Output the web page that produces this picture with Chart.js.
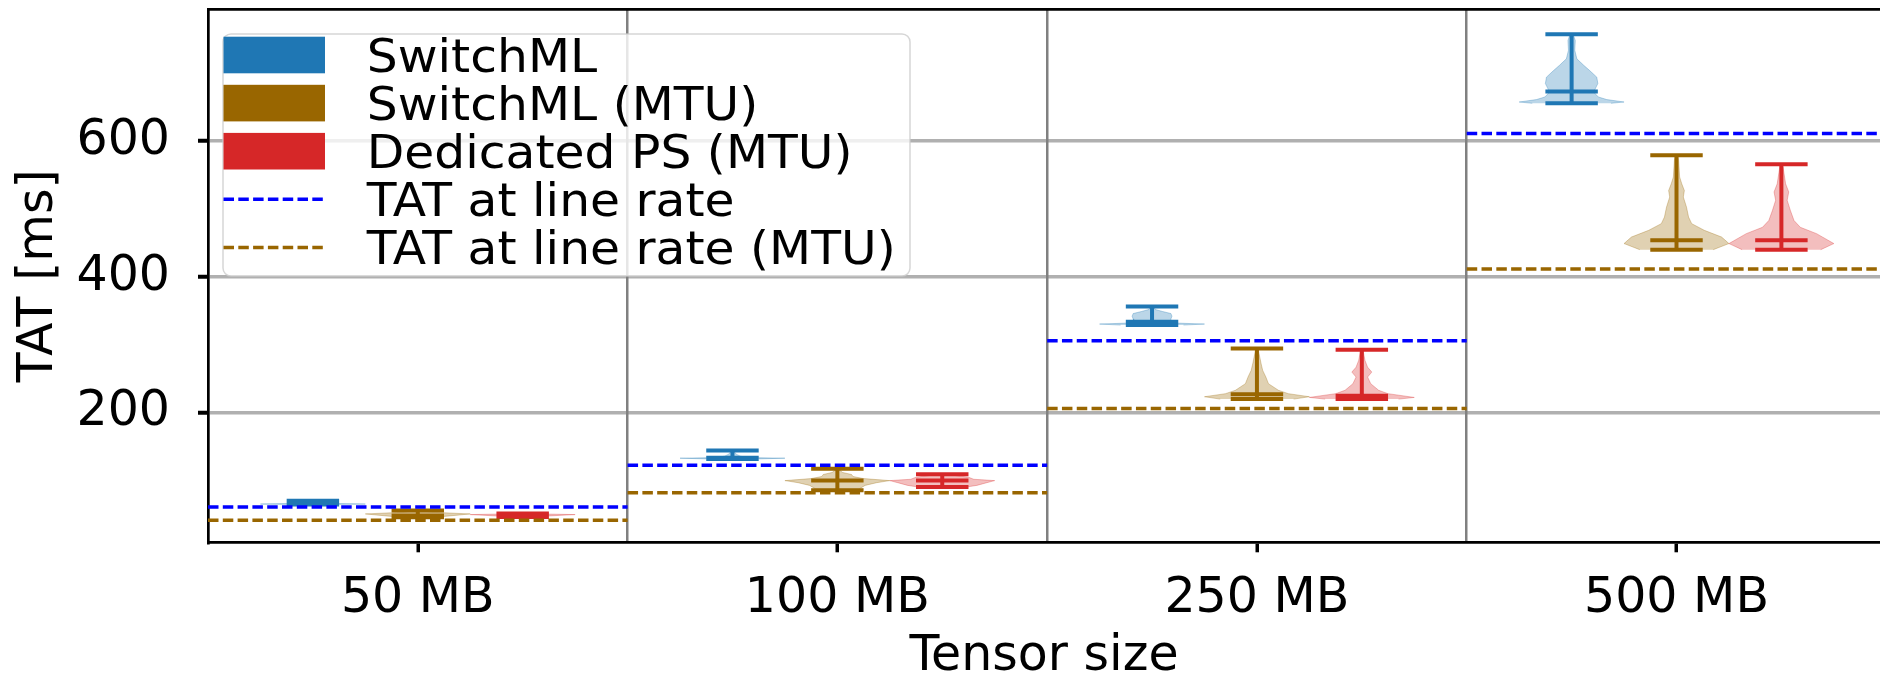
<!DOCTYPE html>
<html>
<head>
<meta charset="utf-8">
<script src="https://cdn.jsdelivr.net/npm/chart.js@4.4.1/dist/chart.umd.min.js"></script>
<style>
  html, body { margin: 0; padding: 0; background: #fff; }
  #wrap { width: 1880px; height: 680px; }
</style>
</head>
<body>
<div id="wrap"><canvas id="chart"></canvas></div>
<script>
const categories = ['50 MB', '100 MB', '250 MB', '500 MB'];
const seriesNames = ['SwitchML', 'SwitchML (MTU)', 'Dedicated PS (MTU)'];
const seriesColors = ['#1f77b4', '#996600', '#d62728'];
const lineNames = ['TAT at line rate', 'TAT at line rate (MTU)'];
const lineColors = ['#0000ff', '#996600'];
const yTicks = [200, 400, 600];

// TAT at line rate, per tensor size
const lineRate = [61.3, 122.5, 305.8, 611];
const lineRateMtu = [41.5, 82.3, 206.2, 411.5];

// min / median / max per tensor size
const switchmlMin = [65, 132, 329, 655.5];
const switchmlMed = [67, 133.5, 334, 673];
const switchmlMax = [70.5, 144.5, 356.5, 757];

const switchmlMtuMin = [46, 86, 220, 440];
const switchmlMtuMed = [48.5, 100, 227, 454];
const switchmlMtuMax = [56, 117.5, 294.7, 579];

const dedicatedPsMin = [46.5, 90.5, 220, 440];
const dedicatedPsMed = [47.5, 100.2, 225, 454];
const dedicatedPsMax = [51.5, 109.5, 292.8, 565.7];

// violin outlines: [TAT, relative density]
const switchmlShape = [
  [[65, 0.3], [65.5, 1.0], [66.5, 0.35], [68, 0.2], [69.5, 0.1], [70.5, 0.03]],
  [[132, 0.5], [133, 1.0], [134, 0.3], [136, 0.15], [139, 0.07], [142, 0.04], [144.5, 0.02]],
  [[329, 0.6], [330.5, 1.0], [332, 0.45], [335, 0.35], [338, 0.36], [342, 0.38], [346, 0.36], [349, 0.2], [352, 0.06], [356.5, 0.03]],
  [[655.5, 0.75], [657.4, 1.0], [661, 0.67], [664.8, 0.51], [672, 0.42], [684.5, 0.5], [694, 0.48], [704, 0.34], [711.5, 0.23], [721, 0.1], [733.6, 0.06], [748, 0.07], [757, 0.03]],
];
const switchmlMtuShape = [
  [[46, 0.3], [48, 0.6], [51, 1.0], [53, 0.4], [55, 0.1], [56, 0.03]],
  [[86, 0.4], [88, 0.42], [93, 0.53], [97, 0.75], [100, 1.0], [103, 0.5], [106, 0.3], [109, 0.27], [112, 0.1], [115, 0.05], [117.5, 0.02]],
  [[220, 0.7], [223.5, 1.0], [228, 0.6], [233, 0.41], [242.7, 0.22], [252.5, 0.17], [262.3, 0.11], [272, 0.08], [287, 0.04], [294.7, 0.02]],
  [[440, 0.7], [449, 1.0], [458.6, 0.86], [468.5, 0.53], [478.3, 0.29], [488, 0.23], [502.8, 0.19], [517.5, 0.13], [527, 0.15], [537, 0.1], [547, 0.06], [571.6, 0.04], [579, 0.02]],
];
const dedicatedPsShape = [
  [[46.5, 0.3], [48, 0.5], [50, 1.0], [51, 0.3], [51.5, 0.05]],
  [[90.5, 0.45], [93, 0.66], [97, 0.85], [100, 1.0], [102, 0.6], [105, 0.5], [107, 0.3], [109.5, 0.05]],
  [[220, 0.7], [222.5, 1.0], [228, 0.5], [233, 0.32], [242.7, 0.17], [252.5, 0.11], [259.8, 0.19], [267, 0.11], [277, 0.06], [292.8, 0.02]],
  [[440, 0.75], [449, 1.0], [463.6, 0.67], [473, 0.36], [483, 0.24], [498, 0.17], [512.7, 0.11], [525, 0.14], [537, 0.08], [547, 0.06], [562, 0.03], [565.7, 0.02]],
];

const seriesMin = [switchmlMin, switchmlMtuMin, dedicatedPsMin];
const seriesMed = [switchmlMed, switchmlMtuMed, dedicatedPsMed];
const seriesMax = [switchmlMax, switchmlMtuMax, dedicatedPsMax];
const seriesShape = [switchmlShape, switchmlMtuShape, dedicatedPsShape];

const offsets = [-0.25, 0, 0.25];
const bodyHalf = 0.125;
const capHalf = 0.0625;
const FONT = '"DejaVu Sans", sans-serif';

function rgba(hex, a) {
  const n = parseInt(hex.slice(1), 16);
  return 'rgba(' + (n >> 16) + ',' + ((n >> 8) & 255) + ',' + (n & 255) + ',' + a + ')';
}

function refSegments(values) {
  const pts = [];
  values.forEach((v, c) => {
    pts.push({x: c + 0.5, y: v}, {x: c + 1.5, y: v}, {x: c + 1.5, y: null});
  });
  return pts;
}

// keep the plot area where the figure has it
function noPad(scale) {
  scale.paddingTop = 0;
  scale.paddingBottom = 0;
  scale.paddingLeft = 0;
  scale.paddingRight = 0;
}

const datasets = [];

// dashed line-rate references
[lineRate, lineRateMtu].forEach((vals, i) => {
  datasets.push({
    label: lineNames[i],
    data: refSegments(vals),
    showLine: true,
    spanGaps: false,
    borderColor: lineColors[i],
    borderWidth: 3.5,
    borderDash: [10.5, 4.3],
    borderCapStyle: 'butt',
    pointRadius: 0,
    fill: false,
    order: 0,
  });
});

seriesNames.forEach((name, s) => {
  // whiskers, caps and medians
  const pts = [];
  categories.forEach((cat, c) => {
    const p = c + 1 + offsets[s];
    [seriesMin[s][c], seriesMed[s][c], seriesMax[s][c]].forEach((v) => {
      pts.push({x: p - capHalf, y: v}, {x: p + capHalf, y: v}, {x: p, y: null});
    });
    pts.push({x: p, y: seriesMin[s][c]}, {x: p, y: seriesMax[s][c]}, {x: p, y: null});
  });
  datasets.push({
    label: name,
    data: pts,
    showLine: true,
    spanGaps: false,
    borderColor: seriesColors[s],
    borderWidth: 4,
    borderCapStyle: 'butt',
    pointRadius: 0,
    fill: false,
    order: 1,
  });

  // violin bodies
  categories.forEach((cat, c) => {
    const p = c + 1 + offsets[s];
    const shape = seriesShape[s][c];
    const right = shape.map(([v, w]) => ({x: p + w * bodyHalf, y: v}));
    const left = shape.slice().reverse().map(([v, w]) => ({x: p - w * bodyHalf, y: v}));
    datasets.push({
      label: name + ' ' + cat,
      data: right.concat(left),
      showLine: true,
      fill: 'shape',
      backgroundColor: rgba(seriesColors[s], 0.3),
      borderColor: rgba(seriesColors[s], 0.3),
      borderWidth: 1,
      pointRadius: 0,
      order: 2,
    });
  });
});

const legendBox = {
  id: 'legendBox',
  afterDraw(chart) {
    const ctx = chart.ctx;
    ctx.save();
    ctx.beginPath();
    ctx.roundRect(223, 34, 687, 242, 8);
    ctx.fillStyle = 'rgba(255,255,255,0.8)';
    ctx.fill();
    ctx.strokeStyle = 'rgba(204,204,204,0.8)';
    ctx.lineWidth = 1.5;
    ctx.stroke();

    const rows = seriesNames.length + lineNames.length;
    for (let i = 0; i < rows; i++) {
      const cy = 55 + i * 48.1;
      if (i < seriesNames.length) {
        ctx.fillStyle = seriesColors[i];
        ctx.fillRect(223.5, cy - 18.3, 101.5, 36.6);
      } else {
        ctx.beginPath();
        ctx.setLineDash([10.5, 4.3]);
        ctx.strokeStyle = lineColors[i - seriesNames.length];
        ctx.lineWidth = 3.5;
        ctx.moveTo(223.5, cy);
        ctx.lineTo(325, cy);
        ctx.stroke();
        ctx.setLineDash([]);
      }
      const label = i < seriesNames.length ? seriesNames[i] : lineNames[i - seriesNames.length];
      ctx.save();
      ctx.translate(366.7, cy + 16.8);
      ctx.scale(1.06, 1);
      ctx.font = '46px ' + FONT;
      ctx.fillStyle = '#000';
      ctx.textBaseline = 'alphabetic';
      ctx.fillText(label, 0, 0);
      ctx.restore();
    }
    ctx.restore();
  }
};

const isCat = (v) => Math.abs(v - Math.round(v)) < 1e-9;

new Chart(document.getElementById('chart'), {
  type: 'scatter',
  data: { datasets: datasets },
  plugins: [legendBox],
  options: {
    responsive: true,
    maintainAspectRatio: false,
    animation: false,
    devicePixelRatio: 1,
    events: [],
    layout: { padding: 0 },
    elements: { line: { tension: 0 } },
    plugins: {
      legend: { display: false },
      tooltip: { enabled: false },
    },
    scales: {
      x: {
        type: 'linear',
        position: 'bottom',
        min: 0.5,
        max: 4.485,
        afterBuildTicks: (scale) => {
          scale.ticks = [1, 1.5, 2, 2.5, 3, 3.5, 4].map((v) => ({value: v}));
        },
        afterFit: (scale) => { scale.height = 137.7; noPad(scale); },
        ticks: {
          autoSkip: false,
          maxRotation: 0,
          padding: 22,
          color: '#000',
          font: { family: FONT, size: 49, lineHeight: 1 },
          callback: (v) => isCat(v) ? categories[Math.round(v) - 1] : '',
        },
        grid: {
          z: -1,
          lineWidth: 2.5,
          color: (ctx) => ctx.tick && isCat(ctx.tick.value) ? 'rgba(0,0,0,0)' : '#808080',
          tickColor: (ctx) => ctx.tick && isCat(ctx.tick.value) ? '#000' : 'rgba(0,0,0,0)',
          tickLength: 10,
          tickWidth: 3.5,
        },
        border: { display: true, color: '#000', width: 2.7 },
        title: {
          display: true,
          text: 'Tensor size',
          color: '#000',
          font: { family: FONT, size: 49, lineHeight: 0.94 },
          padding: { top: 0, bottom: 0 },
        },
      },
      xTop: {
        type: 'linear',
        position: 'top',
        min: 0.5,
        max: 4.485,
        afterFit: (scale) => { scale.height = 9.3; noPad(scale); },
        ticks: { display: false },
        grid: { display: false, drawTicks: false },
        border: { display: true, color: '#000', width: 2.7 },
      },
      y: {
        type: 'linear',
        position: 'left',
        min: 9.2,
        max: 793.9,
        afterBuildTicks: (scale) => {
          scale.ticks = yTicks.map((v) => ({value: v}));
        },
        afterFit: (scale) => { scale.width = 208; noPad(scale); },
        ticks: {
          padding: 28,
          color: '#000',
          font: { family: FONT, size: 49 },
          callback: (v) => String(v),
        },
        grid: {
          z: -2,
          color: '#b0b0b0',
          lineWidth: 3.5,
          tickColor: '#000',
          tickLength: 10,
          tickWidth: 4,
        },
        border: { display: true, color: '#000', width: 2.7 },
        title: {
          display: true,
          text: 'TAT [ms]',
          color: '#000',
          font: { family: FONT, size: 49 },
          padding: { top: 10, bottom: 0 },
        },
      },
    },
  },
});
</script>
</body>
</html>
